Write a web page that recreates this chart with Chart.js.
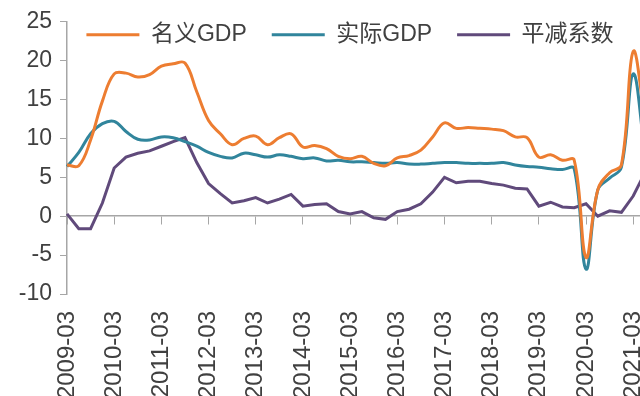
<!DOCTYPE html>
<html>
<head>
<meta charset="utf-8">
<script src="https://cdn.jsdelivr.net/npm/chart.js"></script>
<style>
  html, body { margin: 0; padding: 0; overflow: hidden; background: #fff; }
  #wrap { width: 650px; height: 396px; }
</style>
</head>
<body>
<div id="wrap"><canvas id="myChart"></canvas></div>
<script>
const quarters = [
  "2009-03", "2009-06", "2009-09", "2009-12",
  "2010-03", "2010-06", "2010-09", "2010-12",
  "2011-03", "2011-06", "2011-09", "2011-12",
  "2012-03", "2012-06", "2012-09", "2012-12",
  "2013-03", "2013-06", "2013-09", "2013-12",
  "2014-03", "2014-06", "2014-09", "2014-12",
  "2015-03", "2015-06", "2015-09", "2015-12",
  "2016-03", "2016-06", "2016-09", "2016-12",
  "2017-03", "2017-06", "2017-09", "2017-12",
  "2018-03", "2018-06", "2018-09", "2018-12",
  "2019-03", "2019-06", "2019-09", "2019-12",
  "2020-03", "2020-06", "2020-09", "2020-12",
  "2021-03", "2021-06",
];

// 名义GDP
const nominal = [
  6.6, 6.5, 9.8, 14.8,
  18.3, 18.4, 17.9, 18.2,
  19.3, 19.6, 19.7, 16.0,
  12.3, 10.6, 9.2, 10.0,
  10.3, 9.2, 10.1, 10.6,
  8.9, 9.1, 8.7, 7.7,
  7.4, 7.7, 6.8, 6.5,
  7.5, 7.8, 8.5, 10.2,
  12.0, 11.3, 11.4, 11.3,
  11.2, 11.0, 10.2, 10.1,
  7.6, 7.9, 7.2, 7.2,
  -5.3, 3.4, 5.6, 6.6,
  21.2, 12.5,
];

// 实际GDP
const real = [
  6.4, 8.2, 10.6, 11.9,
  12.2, 10.9, 9.9, 9.8,
  10.2, 10.1, 9.6, 9.0,
  8.2, 7.7, 7.5, 8.1,
  7.9, 7.6, 7.9, 7.7,
  7.4, 7.5, 7.1, 7.2,
  7.0, 7.0, 6.9, 6.8,
  6.9, 6.7, 6.7, 6.8,
  6.9, 6.9, 6.8, 6.8,
  6.8, 6.9, 6.6, 6.4,
  6.3, 6.1, 6.0, 6.1,
  -6.8, 3.4, 4.9, 6.3,
  18.3, 8.0,
];

// 平减系数
const deflator = [
  0.3, -1.6, -1.6, 1.7,
  6.2, 7.6, 8.1, 8.4,
  9.0, 9.6, 10.1, 6.9,
  4.2, 2.9, 1.7, 2.0,
  2.4, 1.7, 2.2, 2.8,
  1.3, 1.5, 1.6, 0.6,
  0.3, 0.6, -0.2, -0.4,
  0.6, 0.9, 1.6, 3.1,
  5.0, 4.3, 4.5, 4.5,
  4.2, 4.0, 3.6, 3.5,
  1.3, 1.8, 1.2, 1.1,
  1.6, 0.0, 0.7, 0.5,
  2.6, 5.6,
];

const yTicks = { min: -10, max: 25, step: 5 };

const axisColor = "#a6a6a6";
const textColor = "#404040";
const font = "'Liberation Sans', 'Noto Sans CJK SC', sans-serif";

// legend overlaps the top of the plot like the excel one:
// it takes almost no layout room, then gets moved up over the plot
const legendUp = {
  id: "legendUp",
  afterLayout(chart) {
    const lg = chart.legend;
    lg.top = chart.chartArea.top - 23.5;
    lg.bottom = lg.top + 60;
    lg.height = 60;
    lg.left -= 6;
    lg.right -= 6;
  },
};

const ctx = document.getElementById("myChart");
new Chart(ctx, {
  type: "line",
  data: {
    labels: quarters,
    datasets: [
      {
        label: "名义GDP",
        data: nominal,
        borderColor: "#ed7d31",
        backgroundColor: "#ed7d31",
        borderWidth: 3,
        pointRadius: 0,
        tension: 0.4,
      },
      {
        label: "实际GDP",
        data: real,
        borderColor: "#31859c",
        backgroundColor: "#31859c",
        borderWidth: 3,
        pointRadius: 0,
        tension: 0.4,
      },
      {
        label: "平减系数",
        data: deflator,
        borderColor: "#604a7b",
        backgroundColor: "#604a7b",
        borderWidth: 3,
        pointRadius: 0,
        tension: 0,
      },
    ],
  },
  options: {
    responsive: true,
    maintainAspectRatio: false,
    animation: false,
    layout: { padding: { top: 20, right: 5, left: 0, bottom: 0 } },
    plugins: {
      tooltip: { enabled: false },
      legend: {
        position: "top",
        align: "center",
        fullSize: false,
        maxHeight: 1,
        labels: {
          usePointStyle: true,
          pointStyle: "line",
          pointStyleWidth: 53,
          padding: 25,
          color: textColor,
          font: { family: font, size: 23 },
        },
      },
    },
    scales: {
      x: {
        type: "category",
        position: "bottom",
        grid: { display: false, drawTicks: false },
        border: { display: false },
        ticks: {
          autoSkip: false,
          minRotation: 90,
          maxRotation: 90,
          padding: 17,
          color: textColor,
          font: { family: font, size: 24 },
          callback: function (value, index) {
            return index % 4 === 0 ? quarters[index] : "";
          },
        },
        afterFit: function (scale) {
          scale.height = 102;
          scale.paddingLeft = 0;
          scale.paddingRight = 0;
        },
      },
      x2: {
        type: "category",
        position: { y: 0 },
        grid: {
          drawOnChartArea: false,
          drawTicks: true,
          tickLength: 8,
          tickColor: function (c) {
            return c.index % 4 === 0 ? axisColor : "rgba(0,0,0,0)";
          },
        },
        border: { display: true, color: axisColor, width: 1.5 },
        ticks: { display: false, autoSkip: false },
      },
      y: {
        min: yTicks.min,
        max: yTicks.max,
        grid: {
          drawOnChartArea: false,
          drawTicks: true,
          tickLength: 7,
          color: axisColor,
        },
        border: { display: true, color: axisColor, width: 1.5 },
        ticks: {
          stepSize: yTicks.step,
          padding: 8,
          color: textColor,
          font: { family: font, size: 23 },
        },
        afterFit: function (scale) {
          scale.width = 67;
        },
      },
    },
  },
  plugins: [legendUp],
});
</script>
</body>
</html>
